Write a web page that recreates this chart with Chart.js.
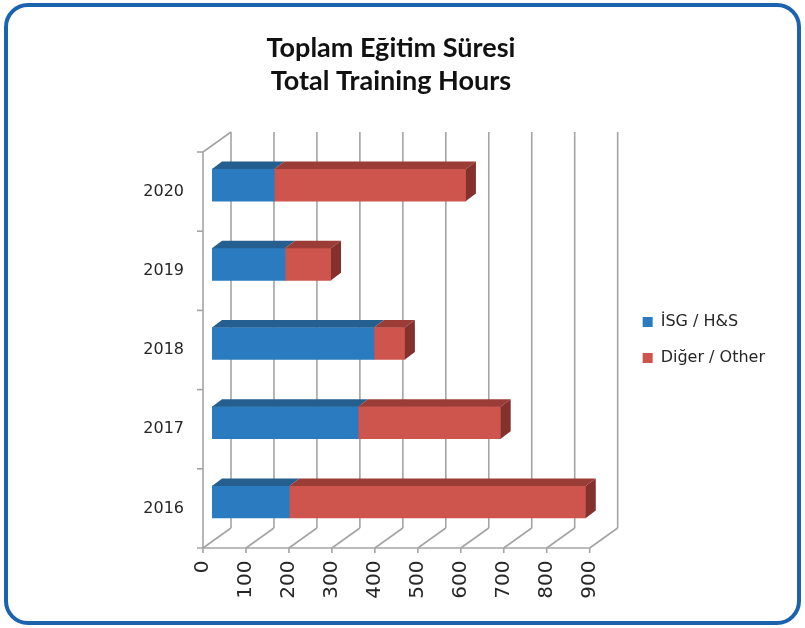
<!DOCTYPE html>
<html><head><meta charset="utf-8">
<script src="https://cdn.jsdelivr.net/npm/chart.js@4"></script>
<style>
html,body{margin:0;padding:0;background:#fff;}
#frame{position:absolute;left:4px;top:3px;width:797px;height:622px;box-sizing:border-box;border:4px solid #1b63ae;border-radius:24px;}
#wrap{position:absolute;left:0;top:0;width:805px;height:628px;}
</style></head><body>
<div id="frame"></div>
<div id="wrap"><canvas id="c" width="805" height="628"></canvas></div>
<script>
// ---- data ----
const categories = ['2020', '2019', '2018', '2017', '2016'];
const isgHours = [145, 170, 377, 340, 180];
const otherHours = [446, 107, 72, 332, 690];
const seriesNames = ['İSG / H&S', 'Diğer / Other'];
const titleLines = ['Toplam Eğitim Süresi', 'Total Training Hours'];
const xMin = 0, xMax = 900, xStep = 100;

// ---- style ----
const frontColors = ['#2a7bc0', '#cd554d'];
const topColors = ['#245f90', '#9b3c37'];
const sideColors = ['#1d4d75', '#84302c'];
const D = {fdx: -9, fdy: 6.5, bdx: 19, bdy: -13.5, tdx: 10, tdy: -7.5};

const wall3d = {
  id: 'wall3d',
  beforeDatasetsDraw(chart) {
    const {ctx, chartArea: a, scales: {x, y}} = chart;
    ctx.save();
    ctx.strokeStyle = '#a4a4a4';
    ctx.lineWidth = 1.6;
    const line = (x1, y1, x2, y2) => { ctx.beginPath(); ctx.moveTo(x1, y1); ctx.lineTo(x2, y2); ctx.stroke(); };
    const fTop = a.top + D.fdy, fBot = a.bottom + D.fdy, bTop = a.top + D.bdy, bBot = a.bottom + D.bdy;
    x.ticks.forEach(t => {
      const px = x.getPixelForValue(t.value);
      line(px + D.bdx, bTop, px + D.bdx, bBot);
      line(px + D.fdx, fBot, px + D.bdx, bBot);
      line(px + D.fdx, fBot, px + D.fdx, fBot + 5);
    });
    const x0 = x.getPixelForValue(x.min), x1 = x.getPixelForValue(x.max);
    line(x0 + D.fdx - 6, fBot, x1 + D.fdx, fBot);
    line(x0 + D.fdx, fTop, x0 + D.fdx, fBot);
    line(x0 + D.fdx, fTop, x0 + D.bdx, bTop);
    const n = chart.data.labels.length;
    const step = (a.bottom - a.top) / n;
    for (let i = 0; i < n; i++) {
      const py = a.top + i * step + D.fdy;
      line(x0 + D.fdx - 6, py, x0 + D.fdx, py);
    }
    ctx.restore();
  },
  afterDatasetsDraw(chart) {
    const ctx = chart.ctx;
    const n = chart.data.datasets.length;
    const poly = pts => { ctx.beginPath(); ctx.moveTo(pts[0][0], pts[0][1]); for (let i = 1; i < pts.length; i++) ctx.lineTo(pts[i][0], pts[i][1]); ctx.closePath(); ctx.fill(); };
    ctx.save();
    chart.data.datasets.forEach((ds, di) => {
      const meta = chart.getDatasetMeta(di);
      meta.data.forEach(el => {
        const {x, y, base, height} = el.getProps(['x', 'y', 'base', 'height'], true);
        const top = y - height / 2, bot = y + height / 2;
        const l = Math.min(x, base), r = Math.max(x, base);
        ctx.fillStyle = topColors[di];
        poly([[l, top], [r, top], [r + D.tdx, top + D.tdy], [l + D.tdx, top + D.tdy]]);
        if (di === n - 1) {
          ctx.fillStyle = sideColors[di];
          poly([[r, top], [r + D.tdx, top + D.tdy], [r + D.tdx, bot + D.tdy], [r, bot]]);
        }
      });
    });
    ctx.restore();
  }
};

new Chart(document.getElementById('c'), {
  type: 'bar',
  data: {
    labels: categories,
    datasets: [
      {label: seriesNames[0], data: isgHours, backgroundColor: frontColors[0], borderWidth: 0, barThickness: 32},
      {label: seriesNames[1], data: otherHours, backgroundColor: frontColors[1], borderWidth: 0, barThickness: 32}
    ]
  },
  options: {
    indexAxis: 'y',
    responsive: false,
    animation: false,
    layout: {padding: {left: 7, right: 30, top: 0, bottom: 0}},
    plugins: {
      title: {
        display: true,
        text: titleLines,
        color: '#111',
        font: {family: 'Lato', weight: 'bold', size: 27, lineHeight: 1.25},
        padding: {top: 31, bottom: 47}
      },
      legend: {
        position: 'right',
        maxWidth: 200,
        title: {display: true, text: ' ', font: {size: 10, lineHeight: 1}, padding: {top: 42, bottom: 0}},
        labels: {
          boxWidth: 10, boxHeight: 10, padding: 20, color: '#262626',
          font: {family: 'DejaVu Sans', size: 16}
        }
      },
      tooltip: {enabled: false}
    },
    scales: {
      x: {
        type: 'linear', stacked: true, min: xMin, max: xMax,
        grid: {display: false}, border: {display: false},
        ticks: {stepSize: xStep, minRotation: 90, maxRotation: 90, autoSkip: false, padding: 11, labelOffset: D.fdx,
          color: '#262626', font: {family: 'DejaVu Sans', size: 20}},
        afterFit(s) { s.height = 86.5; }
      },
      y: {
        stacked: true,
        grid: {display: false}, border: {display: false},
        ticks: {padding: 20, labelOffset: D.fdy, color: '#262626', font: {family: 'DejaVu Sans', size: 16}},
        afterFit(s) { s.width = 205; }
      },
      yR: {
        type: 'linear', position: 'right', display: true,
        grid: {display: false}, border: {display: false}, ticks: {display: false},
        afterFit(s) { s.width = 24; }
      }
    }
  },
  plugins: [wall3d]
});
</script>
</body></html>
